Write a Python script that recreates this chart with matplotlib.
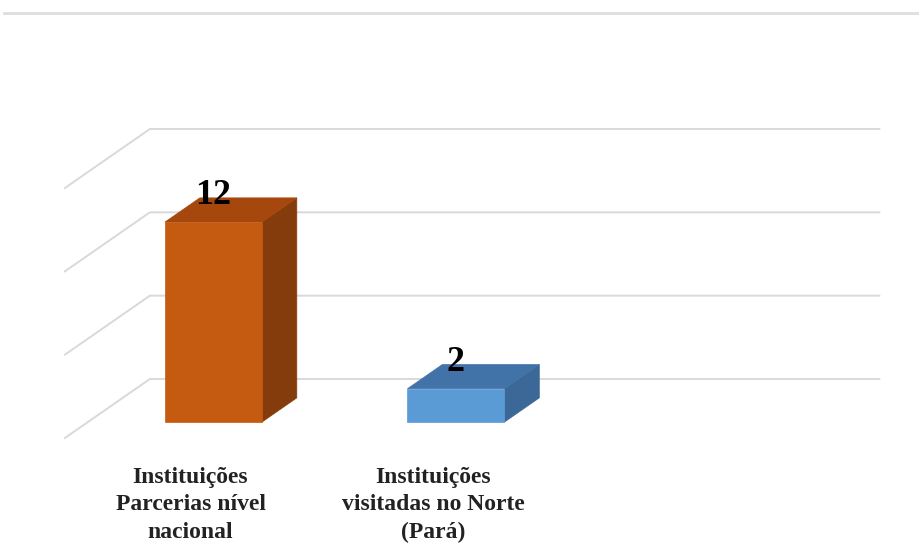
import matplotlib.pyplot as plt
from matplotlib.patches import Polygon

categories = ["Instituições\nParcerias nível\nnacional", "Instituições\nvisitadas no Norte\n(Pará)"]
values = [12, 2]
front_colors = ["#C55A11", "#5B9BD5"]
top_colors = ["#A6480D", "#4173A8"]
side_colors = ["#843C0C", "#3B6896"]
grid_values = [0, 5, 10, 15]

# fake 3d: a point at depth z (0 = front of floor, 1 = back wall) is shifted by z*(DX, DY)
DX, DY = 0.3505, 3.54
X_LEFT, X_RIGHT = -0.518, 2.49
BAR_W = 0.4
Z0, Z1 = 0.27, 0.68


def proj(x, v, z):
    return (x + z * DX, v + z * DY)


fig = plt.figure(figsize=(9.2, 5.5), dpi=100)
ax = fig.add_axes([0, 0, 1, 1])
ax.set_xlim(-0.7856, 3.0082)
ax.set_ylim(-6.72, 26.28)
ax.axis("off")

# chart border line at the top
ax.plot([-0.77, 3.01], [25.5, 25.5], color="#DEDEDE", lw=2, zorder=1)

# grid on the back wall and the left wall
for g in grid_values:
    a = proj(X_LEFT, g, 0)
    b = proj(X_LEFT, g, 1)
    c = proj(X_RIGHT, g, 1)
    ax.plot([a[0], b[0], c[0]], [a[1], b[1], c[1]], color="#D9D9D9", lw=1.4, zorder=1)

for i, (val, fc, tc, sc) in enumerate(zip(values, front_colors, top_colors, side_colors)):
    xl, xr = i - BAR_W / 2, i + BAR_W / 2
    front = [proj(xl, 0, Z0), proj(xr, 0, Z0), proj(xr, val, Z0), proj(xl, val, Z0)]
    top = [proj(xl, val, Z0), proj(xr, val, Z0), proj(xr, val, Z1), proj(xl, val, Z1)]
    side = [proj(xr, 0, Z0), proj(xr, 0, Z1), proj(xr, val, Z1), proj(xr, val, Z0)]
    for pts, col in [(side, sc), (top, tc), (front, fc)]:
        ax.add_patch(Polygon(pts, closed=True, facecolor=col, edgecolor=col, lw=0.5, zorder=3))
    lx, ly = proj(i, val, Z0)
    ax.annotate(str(val), (lx, ly), xytext=(0, 7), textcoords="offset points",
                ha="center", va="bottom", fontsize=26, fontweight="bold",
                family="Liberation Serif", color="black", zorder=4)
    ax.text(i, -4.0, categories[i], ha="center", va="center", fontsize=17,
            fontweight="bold", family="Liberation Serif", color="#222222",
            linespacing=1.4)

fig.savefig("out.png", dpi=100)
